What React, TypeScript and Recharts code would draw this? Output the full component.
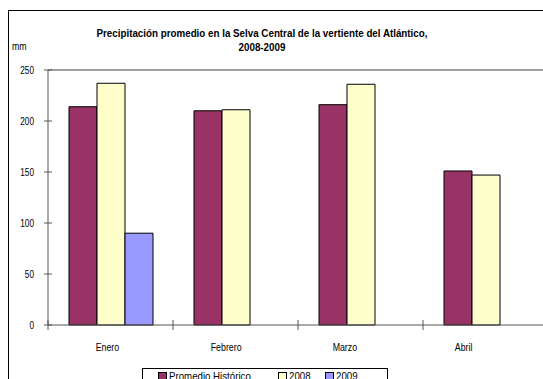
import React from 'react';
import { BarChart, Bar, XAxis, YAxis, Legend, ReferenceLine } from 'recharts';

const months = ['Enero', 'Febrero', 'Marzo', 'Abril'];
const historico = [214, 210, 216, 151];
const serie2008 = [237, 211, 236, 147];
const serie2009: (number | null)[] = [90, null, null, null];
const yTicks = [0, 50, 100, 150, 200, 250];
const seriesNames = ['Promedio Histórico', '2008', '2009'];
const titleLine1 = 'Precipitación promedio en la Selva Central de la vertiente del Atlántico,';
const titleLine2 = '2008-2009';
const unitLabel = 'mm';

const data = months.map((m, i) => ({
  month: m,
  historico: historico[i],
  y2008: serie2008[i],
  y2009: serie2009[i],
}));

const FONT = '"Liberation Sans", Arial, sans-serif';
const AXIS = '#555';

// category boundary cross ticks, derived from the band offset given by the axis
const BoundaryTick = (props: any) => {
  const { x, y, payload, index, visibleTicksCount } = props;
  const half = payload && payload.offset ? payload.offset : 0;
  const xs = [x - half];
  if (index === visibleTicksCount - 1) xs.push(x + half);
  return (
    <g>
      {xs.map((xx, i) => (
        <line key={i} x1={xx} x2={xx} y1={y - 5} y2={y + 5} stroke={AXIS} strokeWidth={1} />
      ))}
    </g>
  );
};

const LabelTick = (props: any) => {
  const { x, y, payload } = props;
  return (
    <text
      transform={`translate(${x},${y}) scale(0.8,1)`}
      x={0}
      y={0}
      dy="0.71em"
      textAnchor="middle"
      fontSize={11}
      fontFamily={FONT}
      fill="#000"
    >
      {payload.value}
    </text>
  );
};

const YCrossTick = (props: any) => {
  const { x, y, payload } = props;
  return (
    <g>
      <line x1={x - 4} x2={x + 4} y1={y} y2={y} stroke={AXIS} strokeWidth={1} />
      <text
        transform={`translate(${x - 14},${y}) scale(0.75,1)`}
        x={0}
        y={0}
        dy="0.36em"
        textAnchor="end"
        fontSize={11}
        fontFamily={FONT}
        fill="#000"
      >
        {payload.value}
      </text>
    </g>
  );
};

const LegendContent = (props: any) => {
  const { payload } = props;
  const widths = [120, 47, 60];
  return (
    <div
      style={{
        border: '1px solid #000',
        width: 246,
        height: 22,
        boxSizing: 'border-box',
        display: 'flex',
        alignItems: 'flex-start',
        paddingLeft: 15,
        paddingTop: 1,
        fontFamily: FONT,
        fontSize: 11,
        lineHeight: '12px',
        background: '#fff',
        whiteSpace: 'nowrap',
      }}
    >
      {(payload || []).map((p: any, i: number) => (
        <div key={p.value} style={{ display: 'flex', alignItems: 'center', width: widths[i], height: 12 }}>
          <span
            style={{
              display: 'inline-block',
              width: 7,
              height: 7,
              background: p.color,
              border: '1px solid #000',
              marginRight: 2,
              flex: 'none',
            }}
          />
          <span style={{ display: 'inline-block', transform: 'scaleX(0.88)', transformOrigin: 'left center' }}>
            {p.value}
          </span>
        </div>
      ))}
    </div>
  );
};

export default function App() {
  return (
    <div
      style={{
        position: 'fixed',
        left: 0,
        top: 0,
        width: 543,
        height: 379,
        overflow: 'hidden',
        background: '#fff',
      }}
    >
      <div style={{ position: 'absolute', left: 8, top: 10, width: 535, height: 1, background: '#000' }} />
      <div style={{ position: 'absolute', left: 8, top: 10, width: 1, height: 369, background: '#000' }} />
      <div
        style={{
          position: 'absolute',
          left: 9,
          top: 11,
          width: 560,
          height: 400,
          fontFamily: FONT,
        }}
      >
        <div
          style={{
            position: 'absolute',
            left: 3,
            top: 15,
            width: 500,
            textAlign: 'center',
            fontWeight: 'bold',
            fontSize: 11,
            lineHeight: '14px',
            color: '#000',
            transform: 'scaleX(0.89)',
            transformOrigin: '250px 0',
            whiteSpace: 'nowrap',
          }}
        >
          <div>{titleLine1}</div>
          <div>{titleLine2}</div>
        </div>
        <div
          style={{
            position: 'absolute',
            left: 3,
            top: 29,
            fontSize: 11,
            lineHeight: '12px',
            transform: 'scaleX(0.8)',
            transformOrigin: 'left top',
          }}
        >
          {unitLabel}
        </div>
        <div style={{ position: 'absolute', left: 0, top: 0 }}>
          <BarChart
            width={560}
            height={400}
            data={data}
            margin={{ top: 59, right: 21, bottom: 55, left: 0 }}
            barGap={0}
          >
            <XAxis
              xAxisId="cat"
              dataKey="month"
              height={1}
              interval={0}
              tickSize={0}
              tickMargin={0}
              tickLine={false}
              axisLine={{ stroke: AXIS }}
              tick={<BoundaryTick />}
            />
            <XAxis
              xAxisId="lbl"
              dataKey="month"
              height={30}
              interval={0}
              padding={{ left: 0, right: 25 }}
              axisLine={false}
              tickLine={false}
              tickSize={0}
              tickMargin={17}
              tick={<LabelTick />}
            />
            <YAxis
              width={39}
              domain={[0, 250]}
              ticks={yTicks}
              axisLine={{ stroke: AXIS }}
              tickLine={false}
              tickSize={0}
              tickMargin={0}
              tick={<YCrossTick />}
            />
            <ReferenceLine y={250} xAxisId="cat" stroke="#a0a0a0" strokeWidth={2} />
            <Legend
              layout="horizontal"
              verticalAlign="middle"
              align="center"
              itemSorter={(item: any) => seriesNames.indexOf(item.value)}
              wrapperStyle={{ left: 133, top: 357, width: 246 }}
              content={<LegendContent />}
            />
            <Bar xAxisId="cat" dataKey="historico" name={seriesNames[0]} fill="#993366" stroke="#000" strokeWidth={1} barSize={28} isAnimationActive={false} />
            <Bar xAxisId="cat" dataKey="y2008" name={seriesNames[1]} fill="#FFFFCC" stroke="#000" strokeWidth={1} barSize={28} isAnimationActive={false} />
            <Bar xAxisId="cat" dataKey="y2009" name={seriesNames[2]} fill="#9999FF" stroke="#000" strokeWidth={1} barSize={28} isAnimationActive={false} />
          </BarChart>
        </div>
      </div>
    </div>
  );
}
